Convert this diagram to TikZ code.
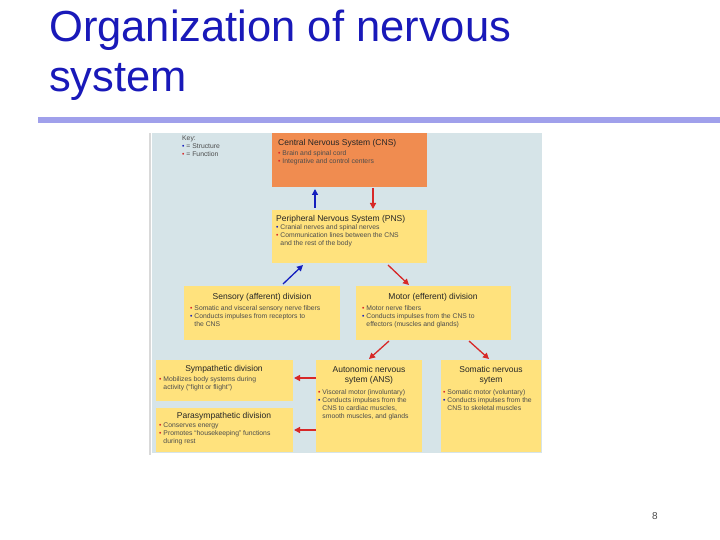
\documentclass[tikz,border=0pt]{standalone}
\usepackage{fontspec}
\setmainfont{Liberation Sans}
\usetikzlibrary{arrows.meta}
\definecolor{ttl}{RGB}{25,25,185}
\definecolor{barc}{RGB}{160,160,235}
\definecolor{panel}{RGB}{214,228,232}
\definecolor{org}{RGB}{240,140,80}
\definecolor{yel}{RGB}{255,226,125}
\definecolor{rd}{RGB}{215,40,40}
\definecolor{bl}{RGB}{20,30,190}
\tikzset{
 box/.style={anchor=north west,inner sep=2pt,align=left,font=\fontsize{6.8}{8}\selectfont,text=black!70},
 rarr/.style={draw=rd,line width=1.3pt,-{Triangle[length=6pt,width=6pt]}},
 barr/.style={draw=bl,line width=1.3pt,-{Triangle[length=6pt,width=6pt]}},
 hd/.style={font=\fontsize{8.5}{10}\selectfont,text=black!85},
 ttlstyle/.style={anchor=base west,text=ttl,font=\fontsize{43.5}{50}\selectfont,inner sep=0}
}
\newcommand{\rb}{{\color{rd}\textbullet}}
\newcommand{\bb}{{\color{bl}\textbullet}}
\begin{document}
\begin{tikzpicture}[x=1pt,y=1pt]
\useasboundingbox (0,0) rectangle (720,-540);
\fill[white] (0,0) rectangle (720,-540);
\node[ttlstyle] (title1) at (49,-42) {Organization of nervous};
\node[ttlstyle] (title2) at (49,-92) {system};
\fill[barc] (38,-117) rectangle (720,-123);
\fill[black!15] (149,-133) rectangle (150.5,-455);
\fill[panel] (152,-133) rectangle (542,-453);
% boxes
\fill[org] (272,-133) rectangle (427,-187);
\fill[yel] (272,-210) rectangle (427,-263);
\fill[yel] (184,-286) rectangle (340,-340);
\fill[yel] (356,-286) rectangle (511,-340);
\fill[yel] (156,-360) rectangle (293,-401);
\fill[yel] (156,-408) rectangle (293,-452);
\fill[yel] (316,-360) rectangle (422,-452);
\fill[yel] (441,-360) rectangle (541,-452);
\node[box] (key) at (180,-134) {Key:\\\bb{} = Structure\\\rb{} = Function};
\node[box] (cns) at (276,-137) {{\fontsize{8.5}{10}\selectfont\color{black!85}Central Nervous System (CNS)}\\[2pt]\rb{} Brain and spinal cord\\\rb{} Integrative and control centers};
\node[box] (pns) at (274,-213) {{\fontsize{8.5}{10}\selectfont\color{black!85}Peripheral Nervous System (PNS)}\\\bb{} Cranial nerves and spinal nerves\\\rb{} Communication lines between the CNS\\\phantom{\textbullet} and the rest of the body};
\node[hd] (sensh) at (262,-297) {Sensory (afferent) division};
\node[box] (sens) at (188,-303) {\rb{} Somatic and visceral sensory nerve fibers\\\bb{} Conducts impulses from receptors to\\\phantom{\textbullet} the CNS};
\node[hd] (moth) at (433,-297) {Motor (efferent) division};
\node[box] (mot) at (360,-303) {\rb{} Motor nerve fibers\\\bb{} Conducts impulses from the CNS to\\\phantom{\textbullet} effectors (muscles and glands)};
\node[hd] (symh) at (224,-369) {Sympathetic division};
\node[box] (sym) at (157,-374) {\rb{} Mobilizes body systems during\\\phantom{\textbullet} activity (``fight or flight'')};
\node[hd] (parh) at (224,-416) {Parasympathetic division};
\node[box] (par) at (157,-421) {\rb{} Conserves energy\\\rb{} Promotes ``housekeeping'' functions\\\phantom{\textbullet} during rest};
\node[hd,align=center] (ansh) at (369,-375) {Autonomic nervous\\sytem (ANS)};
\node[box] (ans) at (316,-387) {\rb{} Visceral motor (involuntary)\\\bb{} Conducts impulses from the\\\phantom{\textbullet} CNS to cardiac muscles,\\\phantom{\textbullet} smooth muscles, and glands};
\node[hd,align=center] (somh) at (491,-375) {Somatic nervous\\sytem};
\node[box] (som) at (441,-387) {\rb{} Somatic motor (voluntary)\\\bb{} Conducts impulses from the\\\phantom{\textbullet} CNS to skeletal muscles};
% arrows
\coordinate (a1) at (315,-208); \coordinate (a2) at (315,-189);
\draw[barr] (a1) -- (a2);
\coordinate (b1) at (373,-188); \coordinate (b2) at (373,-209);
\draw[rarr] (b1) -- (b2);
\coordinate (c1) at (283,-284); \coordinate (c2) at (303,-265);
\draw[barr] (c1) -- (c2);
\coordinate (d1) at (388,-265); \coordinate (d2) at (409,-285);
\draw[rarr] (d1) -- (d2);
\coordinate (e1) at (389,-341); \coordinate (e2) at (369,-359);
\draw[rarr] (e1) -- (e2);
\coordinate (f1) at (469,-341); \coordinate (f2) at (489,-359);
\draw[rarr] (f1) -- (f2);
\coordinate (g1) at (316,-378); \coordinate (g2) at (294,-378);
\draw[rarr] (g1) -- (g2);
\coordinate (h1) at (316,-430); \coordinate (h2) at (294,-430);
\draw[rarr] (h1) -- (h2);
\node[font=\fontsize{10}{12}\selectfont,text=black!70] (pg) at (655,-516) {8};
\end{tikzpicture}
\end{document}
